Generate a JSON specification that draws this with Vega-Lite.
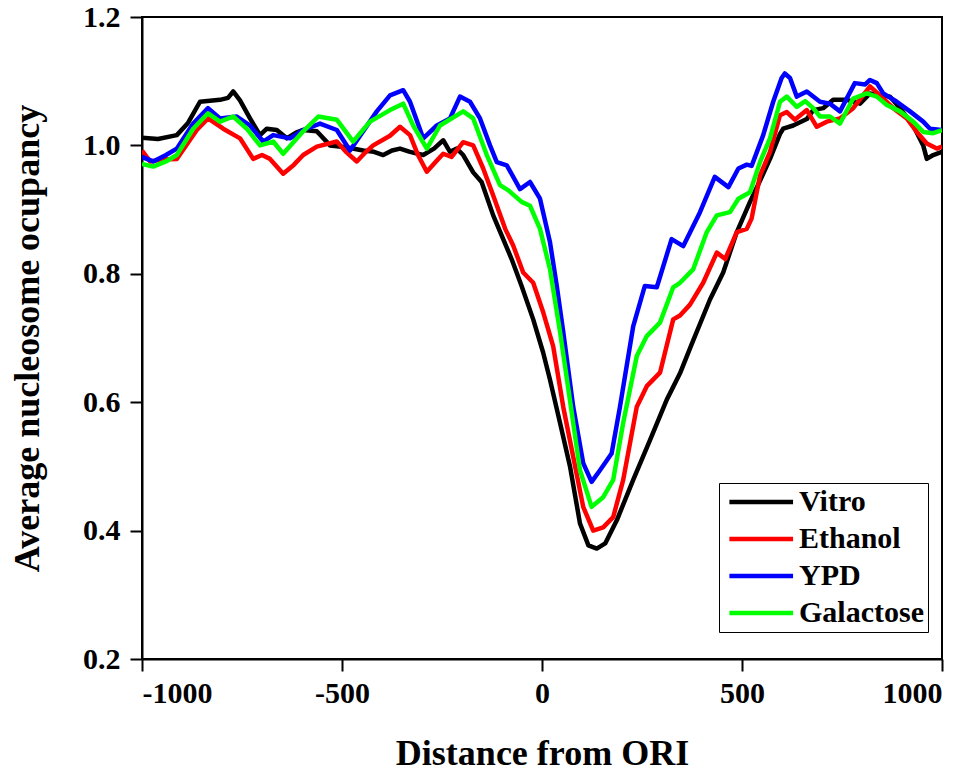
{
  "$schema": "https://vega.github.io/schema/vega-lite/v6.json",
  "width": 800,
  "height": 642,
  "autosize": "none",
  "padding": {"left": 142, "top": 17, "right": 38, "bottom": 113},
  "background": "white",
  "data": {
    "values": [
      {"s": "Vitro", "d": -1000, "v": 1.012}, {"s": "Vitro", "d": -960, "v": 1.010}, {"s": "Vitro", "d": -913, "v": 1.016},
      {"s": "Vitro", "d": -885, "v": 1.035}, {"s": "Vitro", "d": -855, "v": 1.068}, {"s": "Vitro", "d": -805, "v": 1.071},
      {"s": "Vitro", "d": -785, "v": 1.074}, {"s": "Vitro", "d": -772, "v": 1.084}, {"s": "Vitro", "d": -755, "v": 1.07},
      {"s": "Vitro", "d": -730, "v": 1.042}, {"s": "Vitro", "d": -705, "v": 1.016}, {"s": "Vitro", "d": -688, "v": 1.026},
      {"s": "Vitro", "d": -663, "v": 1.024}, {"s": "Vitro", "d": -638, "v": 1.011}, {"s": "Vitro", "d": -615, "v": 1.02},
      {"s": "Vitro", "d": -597, "v": 1.024}, {"s": "Vitro", "d": -563, "v": 1.022}, {"s": "Vitro", "d": -530, "v": 1.0},
      {"s": "Vitro", "d": -490, "v": 0.997}, {"s": "Vitro", "d": -447, "v": 0.992}, {"s": "Vitro", "d": -420, "v": 0.99},
      {"s": "Vitro", "d": -397, "v": 0.985}, {"s": "Vitro", "d": -375, "v": 0.992}, {"s": "Vitro", "d": -355, "v": 0.995},
      {"s": "Vitro", "d": -330, "v": 0.99}, {"s": "Vitro", "d": -297, "v": 0.985}, {"s": "Vitro", "d": -270, "v": 0.995},
      {"s": "Vitro", "d": -247, "v": 1.008}, {"s": "Vitro", "d": -230, "v": 0.99}, {"s": "Vitro", "d": -213, "v": 0.995},
      {"s": "Vitro", "d": -197, "v": 0.985}, {"s": "Vitro", "d": -172, "v": 0.958}, {"s": "Vitro", "d": -151, "v": 0.943},
      {"s": "Vitro", "d": -122, "v": 0.891}, {"s": "Vitro", "d": -97, "v": 0.854}, {"s": "Vitro", "d": -76, "v": 0.823},
      {"s": "Vitro", "d": -51, "v": 0.781}, {"s": "Vitro", "d": -22, "v": 0.729}, {"s": "Vitro", "d": 3, "v": 0.677},
      {"s": "Vitro", "d": 20, "v": 0.635}, {"s": "Vitro", "d": 45, "v": 0.568}, {"s": "Vitro", "d": 70, "v": 0.5},
      {"s": "Vitro", "d": 95, "v": 0.411}, {"s": "Vitro", "d": 116, "v": 0.377}, {"s": "Vitro", "d": 137, "v": 0.372},
      {"s": "Vitro", "d": 158, "v": 0.38}, {"s": "Vitro", "d": 187, "v": 0.416}, {"s": "Vitro", "d": 228, "v": 0.479},
      {"s": "Vitro", "d": 270, "v": 0.541}, {"s": "Vitro", "d": 312, "v": 0.604}, {"s": "Vitro", "d": 345, "v": 0.645},
      {"s": "Vitro", "d": 374, "v": 0.69}, {"s": "Vitro", "d": 420, "v": 0.76}, {"s": "Vitro", "d": 453, "v": 0.802},
      {"s": "Vitro", "d": 487, "v": 0.865}, {"s": "Vitro", "d": 520, "v": 0.912}, {"s": "Vitro", "d": 545, "v": 0.945},
      {"s": "Vitro", "d": 570, "v": 0.979}, {"s": "Vitro", "d": 595, "v": 1.018}, {"s": "Vitro", "d": 603, "v": 1.026},
      {"s": "Vitro", "d": 628, "v": 1.031}, {"s": "Vitro", "d": 662, "v": 1.041}, {"s": "Vitro", "d": 678, "v": 1.055},
      {"s": "Vitro", "d": 703, "v": 1.058}, {"s": "Vitro", "d": 728, "v": 1.071}, {"s": "Vitro", "d": 762, "v": 1.071},
      {"s": "Vitro", "d": 795, "v": 1.065}, {"s": "Vitro", "d": 820, "v": 1.081}, {"s": "Vitro", "d": 845, "v": 1.078},
      {"s": "Vitro", "d": 870, "v": 1.076}, {"s": "Vitro", "d": 895, "v": 1.058}, {"s": "Vitro", "d": 928, "v": 1.031},
      {"s": "Vitro", "d": 953, "v": 1.0}, {"s": "Vitro", "d": 962, "v": 0.979}, {"s": "Vitro", "d": 978, "v": 0.985},
      {"s": "Vitro", "d": 1000, "v": 0.99},

      {"s": "Ethanol", "d": -1000, "v": 0.992}, {"s": "Ethanol", "d": -980, "v": 0.975}, {"s": "Ethanol", "d": -950, "v": 0.978},
      {"s": "Ethanol", "d": -913, "v": 0.979}, {"s": "Ethanol", "d": -863, "v": 1.024}, {"s": "Ethanol", "d": -835, "v": 1.042},
      {"s": "Ethanol", "d": -797, "v": 1.026}, {"s": "Ethanol", "d": -755, "v": 1.011}, {"s": "Ethanol", "d": -722, "v": 0.979},
      {"s": "Ethanol", "d": -700, "v": 0.985}, {"s": "Ethanol", "d": -680, "v": 0.979}, {"s": "Ethanol", "d": -647, "v": 0.956},
      {"s": "Ethanol", "d": -620, "v": 0.97}, {"s": "Ethanol", "d": -597, "v": 0.985}, {"s": "Ethanol", "d": -563, "v": 0.998},
      {"s": "Ethanol", "d": -513, "v": 1.006}, {"s": "Ethanol", "d": -490, "v": 0.99}, {"s": "Ethanol", "d": -463, "v": 0.975},
      {"s": "Ethanol", "d": -440, "v": 0.99}, {"s": "Ethanol", "d": -422, "v": 1.0}, {"s": "Ethanol", "d": -380, "v": 1.015},
      {"s": "Ethanol", "d": -355, "v": 1.029}, {"s": "Ethanol", "d": -330, "v": 1.016}, {"s": "Ethanol", "d": -310, "v": 0.985},
      {"s": "Ethanol", "d": -288, "v": 0.959}, {"s": "Ethanol", "d": -265, "v": 0.975}, {"s": "Ethanol", "d": -247, "v": 0.987},
      {"s": "Ethanol", "d": -226, "v": 0.982}, {"s": "Ethanol", "d": -197, "v": 1.005}, {"s": "Ethanol", "d": -172, "v": 1.0},
      {"s": "Ethanol", "d": -147, "v": 0.964}, {"s": "Ethanol", "d": -122, "v": 0.922}, {"s": "Ethanol", "d": -92, "v": 0.87},
      {"s": "Ethanol", "d": -72, "v": 0.844}, {"s": "Ethanol", "d": -47, "v": 0.802}, {"s": "Ethanol", "d": -22, "v": 0.786},
      {"s": "Ethanol", "d": 3, "v": 0.74}, {"s": "Ethanol", "d": 28, "v": 0.687}, {"s": "Ethanol", "d": 53, "v": 0.593},
      {"s": "Ethanol", "d": 78, "v": 0.515}, {"s": "Ethanol", "d": 103, "v": 0.437}, {"s": "Ethanol", "d": 128, "v": 0.4},
      {"s": "Ethanol", "d": 153, "v": 0.405}, {"s": "Ethanol", "d": 178, "v": 0.421}, {"s": "Ethanol", "d": 203, "v": 0.479},
      {"s": "Ethanol", "d": 237, "v": 0.593}, {"s": "Ethanol", "d": 262, "v": 0.625}, {"s": "Ethanol", "d": 295, "v": 0.646},
      {"s": "Ethanol", "d": 328, "v": 0.729}, {"s": "Ethanol", "d": 345, "v": 0.735}, {"s": "Ethanol", "d": 370, "v": 0.752},
      {"s": "Ethanol", "d": 403, "v": 0.786}, {"s": "Ethanol", "d": 437, "v": 0.833}, {"s": "Ethanol", "d": 458, "v": 0.823},
      {"s": "Ethanol", "d": 487, "v": 0.865}, {"s": "Ethanol", "d": 512, "v": 0.87}, {"s": "Ethanol", "d": 524, "v": 0.886},
      {"s": "Ethanol", "d": 545, "v": 0.953}, {"s": "Ethanol", "d": 570, "v": 0.99}, {"s": "Ethanol", "d": 595, "v": 1.047},
      {"s": "Ethanol", "d": 612, "v": 1.052}, {"s": "Ethanol", "d": 632, "v": 1.04}, {"s": "Ethanol", "d": 662, "v": 1.055},
      {"s": "Ethanol", "d": 687, "v": 1.029}, {"s": "Ethanol", "d": 712, "v": 1.037}, {"s": "Ethanol", "d": 745, "v": 1.042},
      {"s": "Ethanol", "d": 778, "v": 1.058}, {"s": "Ethanol", "d": 820, "v": 1.092}, {"s": "Ethanol", "d": 845, "v": 1.078},
      {"s": "Ethanol", "d": 878, "v": 1.058}, {"s": "Ethanol", "d": 912, "v": 1.042}, {"s": "Ethanol", "d": 937, "v": 1.021},
      {"s": "Ethanol", "d": 962, "v": 1.003}, {"s": "Ethanol", "d": 987, "v": 0.995}, {"s": "Ethanol", "d": 1000, "v": 0.998},

      {"s": "YPD", "d": -1000, "v": 0.982}, {"s": "YPD", "d": -972, "v": 0.975}, {"s": "YPD", "d": -940, "v": 0.985},
      {"s": "YPD", "d": -913, "v": 0.995}, {"s": "YPD", "d": -872, "v": 1.034}, {"s": "YPD", "d": -835, "v": 1.058},
      {"s": "YPD", "d": -805, "v": 1.042}, {"s": "YPD", "d": -763, "v": 1.045}, {"s": "YPD", "d": -730, "v": 1.031},
      {"s": "YPD", "d": -697, "v": 1.006}, {"s": "YPD", "d": -672, "v": 1.016}, {"s": "YPD", "d": -630, "v": 1.011},
      {"s": "YPD", "d": -597, "v": 1.024}, {"s": "YPD", "d": -555, "v": 1.034}, {"s": "YPD", "d": -513, "v": 1.024},
      {"s": "YPD", "d": -480, "v": 0.992}, {"s": "YPD", "d": -447, "v": 1.022}, {"s": "YPD", "d": -413, "v": 1.053},
      {"s": "YPD", "d": -380, "v": 1.078}, {"s": "YPD", "d": -347, "v": 1.086}, {"s": "YPD", "d": -330, "v": 1.068},
      {"s": "YPD", "d": -297, "v": 1.011}, {"s": "YPD", "d": -263, "v": 1.031}, {"s": "YPD", "d": -230, "v": 1.042},
      {"s": "YPD", "d": -205, "v": 1.076}, {"s": "YPD", "d": -180, "v": 1.068}, {"s": "YPD", "d": -155, "v": 1.042},
      {"s": "YPD", "d": -130, "v": 1.0}, {"s": "YPD", "d": -113, "v": 0.974}, {"s": "YPD", "d": -88, "v": 0.969},
      {"s": "YPD", "d": -55, "v": 0.932}, {"s": "YPD", "d": -30, "v": 0.943}, {"s": "YPD", "d": -5, "v": 0.917},
      {"s": "YPD", "d": 20, "v": 0.849}, {"s": "YPD", "d": 37, "v": 0.781}, {"s": "YPD", "d": 53, "v": 0.71},
      {"s": "YPD", "d": 78, "v": 0.593}, {"s": "YPD", "d": 103, "v": 0.505}, {"s": "YPD", "d": 124, "v": 0.476},
      {"s": "YPD", "d": 145, "v": 0.494}, {"s": "YPD", "d": 174, "v": 0.52}, {"s": "YPD", "d": 195, "v": 0.593},
      {"s": "YPD", "d": 228, "v": 0.718}, {"s": "YPD", "d": 257, "v": 0.781}, {"s": "YPD", "d": 287, "v": 0.779},
      {"s": "YPD", "d": 324, "v": 0.854}, {"s": "YPD", "d": 353, "v": 0.843}, {"s": "YPD", "d": 395, "v": 0.896},
      {"s": "YPD", "d": 432, "v": 0.951}, {"s": "YPD", "d": 466, "v": 0.935}, {"s": "YPD", "d": 491, "v": 0.964},
      {"s": "YPD", "d": 512, "v": 0.97}, {"s": "YPD", "d": 524, "v": 0.968}, {"s": "YPD", "d": 553, "v": 1.016},
      {"s": "YPD", "d": 578, "v": 1.068}, {"s": "YPD", "d": 599, "v": 1.105}, {"s": "YPD", "d": 607, "v": 1.112},
      {"s": "YPD", "d": 620, "v": 1.105}, {"s": "YPD", "d": 637, "v": 1.076}, {"s": "YPD", "d": 662, "v": 1.084},
      {"s": "YPD", "d": 695, "v": 1.068}, {"s": "YPD", "d": 720, "v": 1.065}, {"s": "YPD", "d": 745, "v": 1.053},
      {"s": "YPD", "d": 782, "v": 1.097}, {"s": "YPD", "d": 808, "v": 1.095}, {"s": "YPD", "d": 820, "v": 1.102},
      {"s": "YPD", "d": 837, "v": 1.097}, {"s": "YPD", "d": 853, "v": 1.081}, {"s": "YPD", "d": 887, "v": 1.068},
      {"s": "YPD", "d": 920, "v": 1.053}, {"s": "YPD", "d": 953, "v": 1.037}, {"s": "YPD", "d": 970, "v": 1.026},
      {"s": "YPD", "d": 1000, "v": 1.024},

      {"s": "Galactose", "d": -1000, "v": 0.971}, {"s": "Galactose", "d": -972, "v": 0.967}, {"s": "Galactose", "d": -940, "v": 0.975},
      {"s": "Galactose", "d": -913, "v": 0.985}, {"s": "Galactose", "d": -872, "v": 1.026}, {"s": "Galactose", "d": -835, "v": 1.05},
      {"s": "Galactose", "d": -805, "v": 1.037}, {"s": "Galactose", "d": -772, "v": 1.045}, {"s": "Galactose", "d": -738, "v": 1.026},
      {"s": "Galactose", "d": -705, "v": 1.0}, {"s": "Galactose", "d": -672, "v": 1.006}, {"s": "Galactose", "d": -647, "v": 0.987},
      {"s": "Galactose", "d": -597, "v": 1.022}, {"s": "Galactose", "d": -559, "v": 1.045}, {"s": "Galactose", "d": -513, "v": 1.04},
      {"s": "Galactose", "d": -472, "v": 1.006}, {"s": "Galactose", "d": -430, "v": 1.037}, {"s": "Galactose", "d": -380, "v": 1.055},
      {"s": "Galactose", "d": -347, "v": 1.065}, {"s": "Galactose", "d": -322, "v": 1.031}, {"s": "Galactose", "d": -288, "v": 0.995},
      {"s": "Galactose", "d": -255, "v": 1.031}, {"s": "Galactose", "d": -197, "v": 1.053}, {"s": "Galactose", "d": -172, "v": 1.042},
      {"s": "Galactose", "d": -138, "v": 0.985}, {"s": "Galactose", "d": -105, "v": 0.938}, {"s": "Galactose", "d": -84, "v": 0.93},
      {"s": "Galactose", "d": -51, "v": 0.912}, {"s": "Galactose", "d": -30, "v": 0.906}, {"s": "Galactose", "d": -5, "v": 0.87},
      {"s": "Galactose", "d": 20, "v": 0.807}, {"s": "Galactose", "d": 45, "v": 0.71}, {"s": "Galactose", "d": 66, "v": 0.62},
      {"s": "Galactose", "d": 95, "v": 0.494}, {"s": "Galactose", "d": 124, "v": 0.437}, {"s": "Galactose", "d": 153, "v": 0.452},
      {"s": "Galactose", "d": 178, "v": 0.479}, {"s": "Galactose", "d": 203, "v": 0.568}, {"s": "Galactose", "d": 237, "v": 0.672},
      {"s": "Galactose", "d": 262, "v": 0.703}, {"s": "Galactose", "d": 295, "v": 0.724}, {"s": "Galactose", "d": 328, "v": 0.779},
      {"s": "Galactose", "d": 345, "v": 0.786}, {"s": "Galactose", "d": 378, "v": 0.807}, {"s": "Galactose", "d": 412, "v": 0.865},
      {"s": "Galactose", "d": 437, "v": 0.891}, {"s": "Galactose", "d": 470, "v": 0.896}, {"s": "Galactose", "d": 491, "v": 0.917},
      {"s": "Galactose", "d": 520, "v": 0.927}, {"s": "Galactose", "d": 545, "v": 0.974}, {"s": "Galactose", "d": 570, "v": 1.011},
      {"s": "Galactose", "d": 595, "v": 1.068}, {"s": "Galactose", "d": 612, "v": 1.076}, {"s": "Galactose", "d": 637, "v": 1.06},
      {"s": "Galactose", "d": 658, "v": 1.069}, {"s": "Galactose", "d": 678, "v": 1.058}, {"s": "Galactose", "d": 695, "v": 1.045},
      {"s": "Galactose", "d": 720, "v": 1.045}, {"s": "Galactose", "d": 745, "v": 1.034}, {"s": "Galactose", "d": 778, "v": 1.073},
      {"s": "Galactose", "d": 812, "v": 1.081}, {"s": "Galactose", "d": 837, "v": 1.076}, {"s": "Galactose", "d": 862, "v": 1.063},
      {"s": "Galactose", "d": 895, "v": 1.053}, {"s": "Galactose", "d": 928, "v": 1.037}, {"s": "Galactose", "d": 953, "v": 1.021},
      {"s": "Galactose", "d": 978, "v": 1.019}, {"s": "Galactose", "d": 1000, "v": 1.024}
    ]
  },
  "mark": {"type": "line", "strokeWidth": 4.5, "strokeJoin": "round", "clip": true},
  "encoding": {
    "x": {
      "field": "d",
      "type": "quantitative",
      "title": "Distance from ORI",
      "scale": {"domain": [-1000, 1000], "nice": false, "zero": false},
      "axis": {"values": [-1000, -500, 0, 500, 1000], "labelExpr": "toString(datum.value)", "titlePadding": 28, "labelPadding": 7}
    },
    "y": {
      "field": "v",
      "type": "quantitative",
      "title": "Average nucleosome ocupancy",
      "scale": {"domain": [0.2, 1.2], "nice": false, "zero": false},
      "axis": {"values": [0.2, 0.4, 0.6, 0.8, 1.0, 1.2], "format": ".1f", "titlePadding": 36, "labelPadding": 10}
    },
    "color": {
      "field": "s",
      "type": "nominal",
      "sort": ["Vitro", "Ethanol", "YPD", "Galactose"],
      "scale": {"domain": ["Vitro", "Ethanol", "YPD", "Galactose"], "range": ["#000000", "#ff0000", "#0000ff", "#00ff00"]},
      "legend": {"title": null}
    },
    "order": {"field": "d", "type": "quantitative"}
  },
  "config": {
    "view": {"stroke": "black", "strokeWidth": 2},
    "font": "Liberation Serif",
    "axis": {
      "grid": false,
      "domainColor": "black",
      "domainWidth": 2,
      "tickColor": "black",
      "tickWidth": 2,
      "tickSize": 12,
      "labelFont": "Liberation Serif",
      "labelFontWeight": "bold",
      "labelFontSize": 30,
      "labelColor": "black",
      "titleFont": "Liberation Serif",
      "titleFontWeight": "bold",
      "titleFontSize": 36,
      "titleColor": "black"
    },
    "legend": {
      "orient": "none",
      "legendX": 577,
      "legendY": 466,
      "direction": "vertical",
      "strokeColor": "black",
      "fillColor": "white",
      "padding": 4,
      "symbolType": "M-1,0L6.4,0",
      "symbolSize": 296,
      "symbolStrokeWidth": 4.5,
      "labelFont": "Liberation Serif",
      "labelFontWeight": "bold",
      "labelFontSize": 30,
      "labelColor": "black",
      "labelOffset": 46,
      "rowPadding": 7
    }
  }
}
